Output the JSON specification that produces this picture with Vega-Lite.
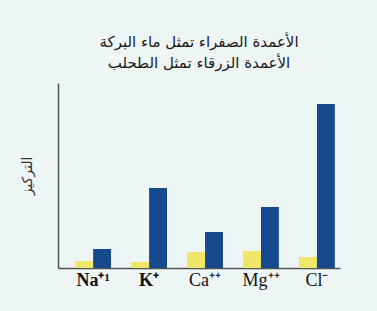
{
  "$schema": "https://vega.github.io/schema/vega-lite/v6.json",
  "width": 282,
  "height": 185,
  "autosize": {"type": "none"},
  "padding": {"left": 58, "top": 83, "right": 37, "bottom": 43},
  "background": "#eef5f5",
  "title": {
    "text": ["الأعمدة الصفراء تمثل ماء البركة", "الأعمدة الزرقاء تمثل الطحلب"],
    "font": "DejaVu Sans",
    "fontSize": 15,
    "fontWeight": "normal",
    "color": "#1a1a1a",
    "lineHeight": 21,
    "anchor": "middle",
    "offset": 12
  },
  "data": {
    "values": [
      {"ion": "Na⁺¹", "source": "pond", "value": 7},
      {"ion": "Na⁺¹", "source": "algae", "value": 19},
      {"ion": "K⁺", "source": "pond", "value": 6},
      {"ion": "K⁺", "source": "algae", "value": 80},
      {"ion": "Ca⁺⁺", "source": "pond", "value": 16},
      {"ion": "Ca⁺⁺", "source": "algae", "value": 36},
      {"ion": "Mg⁺⁺", "source": "pond", "value": 17},
      {"ion": "Mg⁺⁺", "source": "algae", "value": 61},
      {"ion": "Cl⁻", "source": "pond", "value": 11},
      {"ion": "Cl⁻", "source": "algae", "value": 164}
    ]
  },
  "mark": {"type": "bar"},
  "encoding": {
    "x": {
      "field": "ion",
      "type": "nominal",
      "sort": null,
      "scale": {"paddingInner": 0.36, "paddingOuter": 0.2, "align": 0.77},
      "axis": {
        "title": null,
        "labelAngle": 0,
        "ticks": false,
        "labelFont": "Liberation Serif",
        "labelFontSize": 18,
        "labelColor": "#111111",
        "labelFontWeight": {"condition": {"test": "datum.value == 'K⁺' || datum.value == 'Na⁺¹'", "value": "bold"}, "value": "normal"},
        "labelPadding": 3,
        "labelDx": 7,
        "domainColor": "#555555",
        "domainWidth": 1.5,
        "grid": false
      }
    },
    "xOffset": {"field": "source", "type": "nominal", "sort": ["pond", "algae"], "scale": {"paddingInner": 0, "paddingOuter": 0}},
    "y": {
      "field": "value",
      "type": "quantitative",
      "scale": {"domain": [0, 185], "nice": false},
      "axis": {
        "title": "التركيز",
        "titleFont": "DejaVu Sans",
        "titleFontSize": 14,
        "titleFontWeight": "normal",
        "titleColor": "#333333",
        "titlePadding": 24,
        "labels": false,
        "ticks": false,
        "grid": false,
        "domainColor": "#555555",
        "domainWidth": 1.5
      }
    },
    "color": {
      "field": "source",
      "type": "nominal",
      "scale": {"domain": ["pond", "algae"], "range": ["#f0e66a", "#164a8e"]},
      "legend": null
    }
  },
  "config": {"view": {"stroke": null}}
}
